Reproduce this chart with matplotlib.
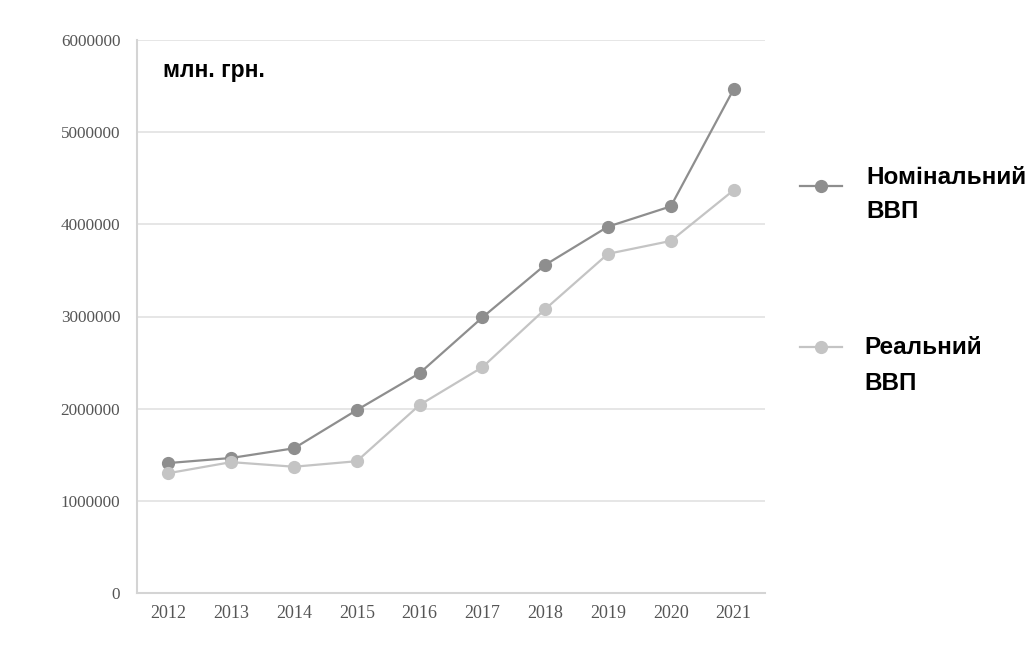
import matplotlib
matplotlib.use("Agg")
import matplotlib.pyplot as plt
from matplotlib.lines import Line2D

years = ["2012", "2013", "2014", "2015", "2016", "2017", "2018", "2019", "2020", "2021"]
nominal = [1410000, 1465000, 1570000, 1985000, 2385000, 2990000, 3560000, 3975000, 4195000, 5465000]
real = [1300000, 1420000, 1370000, 1430000, 2040000, 2450000, 3080000, 3680000, 3820000, 4370000]
yticks = [0, 1000000, 2000000, 3000000, 4000000, 5000000, 6000000]

c_nom = "#8e8e8e"
c_real = "#c4c4c4"

fig = plt.figure(figsize=(10.27, 6.52), dpi=100)
ax = fig.add_axes([137/1027, 1-593/652, (765-137)/1027, (593-40)/652])

x = list(range(len(years)))
ax.plot(x, nominal, color=c_nom, lw=1.6, marker="o", ms=8.5, zorder=3)
ax.plot(x, real, color=c_real, lw=1.6, marker="o", ms=8.5, zorder=3)

ax.set_xlim(-0.5, len(years) - 0.5)
ax.set_ylim(0, 6000000)
ax.set_yticks(yticks)
ax.set_yticklabels([str(v) for v in yticks], family="Liberation Serif", fontsize=12.3, color="#555555")
ax.set_xticks(x)
ax.set_xticklabels(years, family="Liberation Serif", fontsize=13, color="#555555")
ax.tick_params(axis="both", length=0)
ax.tick_params(axis="y", pad=12)
ax.tick_params(axis="x", pad=9)
ax.grid(axis="y", color="#e2e2e2", lw=1.2)
ax.set_axisbelow(True)
for s in ["top", "right"]:
    ax.spines[s].set_visible(False)
for s in ["left", "bottom"]:
    ax.spines[s].set_color("#d4d4d4")
    ax.spines[s].set_linewidth(1.5)

fig.text(163/1027, 1-70/652, "млн. грн.", family="Liberation Sans", fontweight="bold",
         fontsize=16.5, va="center", ha="left", color="black")

# legend
for yy, col in [(186, c_nom), (347, c_real)]:
    fig.add_artist(Line2D([800/1027, 842/1027], [1-yy/652, 1-yy/652], color=col, lw=1.6,
                          transform=fig.transFigure))
    fig.add_artist(Line2D([821/1027], [1-yy/652], color=col, marker="o", ms=8.5,
                          transform=fig.transFigure))

fig.text(866/1027, 1-178/652, "Номінальний", family="Liberation Sans", fontweight="bold",
         fontsize=17.5, va="center", ha="left")
fig.text(866/1027, 1-211/652, "ВВП", family="Liberation Sans", fontweight="bold",
         fontsize=17.5, va="center", ha="left")
fig.text(864/1027, 1-347/652, "Реальний", family="Liberation Sans", fontweight="bold",
         fontsize=17.5, va="center", ha="left")
fig.text(864/1027, 1-384/652, "ВВП", family="Liberation Sans", fontweight="bold",
         fontsize=17.5, va="center", ha="left")

fig.savefig("out.png", dpi=100)
